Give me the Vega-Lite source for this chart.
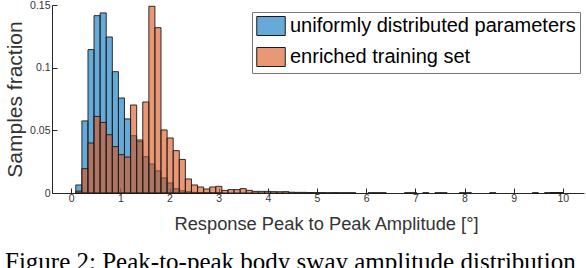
{
  "$schema": "https://vega.github.io/schema/vega-lite/v6.json",
  "autosize": "none",
  "width": 532,
  "height": 188,
  "padding": {"left": 52, "top": 5, "right": 2, "bottom": 75},
  "background": "white",
  "config": {"view": {"stroke": null}},
  "title": {
    "text": "Figure 2: Peak-to-peak body sway amplitude distribution",
    "orient": "bottom",
    "anchor": "start",
    "frame": "group",
    "dx": -47,
    "offset": 17,
    "font": "Liberation Serif",
    "fontSize": 25,
    "fontWeight": "normal",
    "color": "black"
  },
  "data": {
    "values": [
      {"s": "uniformly distributed parameters", "a": 0.094, "b": 0.218, "v": 0.0064},
      {"s": "uniformly distributed parameters", "a": 0.218, "b": 0.342, "v": 0.0575},
      {"s": "uniformly distributed parameters", "a": 0.342, "b": 0.465, "v": 0.1144},
      {"s": "uniformly distributed parameters", "a": 0.465, "b": 0.589, "v": 0.1415},
      {"s": "uniformly distributed parameters", "a": 0.589, "b": 0.713, "v": 0.1437},
      {"s": "uniformly distributed parameters", "a": 0.713, "b": 0.837, "v": 0.1245},
      {"s": "uniformly distributed parameters", "a": 0.837, "b": 0.961, "v": 0.0968},
      {"s": "uniformly distributed parameters", "a": 0.961, "b": 1.084, "v": 0.0758},
      {"s": "uniformly distributed parameters", "a": 1.084, "b": 1.208, "v": 0.0591},
      {"s": "uniformly distributed parameters", "a": 1.208, "b": 1.332, "v": 0.0457},
      {"s": "uniformly distributed parameters", "a": 1.332, "b": 1.456, "v": 0.0410},
      {"s": "uniformly distributed parameters", "a": 1.456, "b": 1.580, "v": 0.0290},
      {"s": "uniformly distributed parameters", "a": 1.580, "b": 1.703, "v": 0.0231},
      {"s": "uniformly distributed parameters", "a": 1.703, "b": 1.827, "v": 0.0176},
      {"s": "uniformly distributed parameters", "a": 1.827, "b": 1.951, "v": 0.0120},
      {"s": "uniformly distributed parameters", "a": 1.951, "b": 2.075, "v": 0.0080},
      {"s": "uniformly distributed parameters", "a": 2.075, "b": 2.199, "v": 0.0034},
      {"s": "uniformly distributed parameters", "a": 2.199, "b": 2.322, "v": 0.0018},
      {"s": "uniformly distributed parameters", "a": 2.322, "b": 2.446, "v": 0.0010},
      {"s": "uniformly distributed parameters", "a": 2.446, "b": 2.570, "v": 0.0005},
      {"s": "uniformly distributed parameters", "a": 2.570, "b": 2.694, "v": 0.0004},
      {"s": "uniformly distributed parameters", "a": 2.694, "b": 2.818, "v": 0.0003},
      {"s": "uniformly distributed parameters", "a": 2.818, "b": 2.941, "v": 0.0002},
      {"s": "uniformly distributed parameters", "a": 2.941, "b": 3.065, "v": 0.0002},
      {"s": "uniformly distributed parameters", "a": 9.750, "b": 9.874, "v": 0.0002},
      {"s": "uniformly distributed parameters", "a": 9.874, "b": 9.998, "v": 0.0002},
      {"s": "enriched training set", "a": 0.094, "b": 0.218, "v": 0.0015},
      {"s": "enriched training set", "a": 0.218, "b": 0.342, "v": 0.0194},
      {"s": "enriched training set", "a": 0.342, "b": 0.465, "v": 0.0399},
      {"s": "enriched training set", "a": 0.465, "b": 0.589, "v": 0.0611},
      {"s": "enriched training set", "a": 0.589, "b": 0.713, "v": 0.0563},
      {"s": "enriched training set", "a": 0.713, "b": 0.837, "v": 0.0465},
      {"s": "enriched training set", "a": 0.837, "b": 0.961, "v": 0.0370},
      {"s": "enriched training set", "a": 0.961, "b": 1.084, "v": 0.0306},
      {"s": "enriched training set", "a": 1.084, "b": 1.208, "v": 0.0287},
      {"s": "enriched training set", "a": 1.208, "b": 1.332, "v": 0.0702},
      {"s": "enriched training set", "a": 1.332, "b": 1.456, "v": 0.0423},
      {"s": "enriched training set", "a": 1.456, "b": 1.580, "v": 0.0726},
      {"s": "enriched training set", "a": 1.580, "b": 1.703, "v": 0.1490},
      {"s": "enriched training set", "a": 1.703, "b": 1.827, "v": 0.1319},
      {"s": "enriched training set", "a": 1.827, "b": 1.951, "v": 0.0503},
      {"s": "enriched training set", "a": 1.951, "b": 2.075, "v": 0.0439},
      {"s": "enriched training set", "a": 2.075, "b": 2.199, "v": 0.0338},
      {"s": "enriched training set", "a": 2.199, "b": 2.322, "v": 0.0268},
      {"s": "enriched training set", "a": 2.322, "b": 2.446, "v": 0.0112},
      {"s": "enriched training set", "a": 2.446, "b": 2.570, "v": 0.0064},
      {"s": "enriched training set", "a": 2.570, "b": 2.694, "v": 0.0048},
      {"s": "enriched training set", "a": 2.694, "b": 2.818, "v": 0.0032},
      {"s": "enriched training set", "a": 2.818, "b": 2.941, "v": 0.0048},
      {"s": "enriched training set", "a": 2.941, "b": 3.065, "v": 0.0053},
      {"s": "enriched training set", "a": 3.065, "b": 3.189, "v": 0.0021},
      {"s": "enriched training set", "a": 3.189, "b": 3.313, "v": 0.0027},
      {"s": "enriched training set", "a": 3.313, "b": 3.437, "v": 0.0027},
      {"s": "enriched training set", "a": 3.437, "b": 3.560, "v": 0.0035},
      {"s": "enriched training set", "a": 3.560, "b": 3.684, "v": 0.0021},
      {"s": "enriched training set", "a": 3.684, "b": 3.808, "v": 0.0013},
      {"s": "enriched training set", "a": 3.808, "b": 3.932, "v": 0.0013},
      {"s": "enriched training set", "a": 3.932, "b": 4.056, "v": 0.0013},
      {"s": "enriched training set", "a": 4.056, "b": 4.180, "v": 0.0011},
      {"s": "enriched training set", "a": 4.180, "b": 4.303, "v": 0.0010},
      {"s": "enriched training set", "a": 4.303, "b": 4.427, "v": 0.0011},
      {"s": "enriched training set", "a": 4.427, "b": 4.551, "v": 0.0006},
      {"s": "enriched training set", "a": 4.551, "b": 4.675, "v": 0.0005},
      {"s": "enriched training set", "a": 4.675, "b": 4.799, "v": 0.0005},
      {"s": "enriched training set", "a": 4.799, "b": 4.922, "v": 0.0004},
      {"s": "enriched training set", "a": 4.922, "b": 5.046, "v": 0.0003},
      {"s": "enriched training set", "a": 5.046, "b": 5.170, "v": 0.0003},
      {"s": "enriched training set", "a": 5.170, "b": 5.294, "v": 0.0002},
      {"s": "enriched training set", "a": 5.294, "b": 5.418, "v": 0.0003},
      {"s": "enriched training set", "a": 5.418, "b": 5.541, "v": 0.0002},
      {"s": "enriched training set", "a": 5.541, "b": 5.665, "v": 0.0002},
      {"s": "enriched training set", "a": 5.665, "b": 5.789, "v": 0.0002},
      {"s": "enriched training set", "a": 6.037, "b": 6.160, "v": 0.0002},
      {"s": "enriched training set", "a": 6.160, "b": 6.284, "v": 0.0002},
      {"s": "enriched training set", "a": 6.284, "b": 6.408, "v": 0.0002},
      {"s": "enriched training set", "a": 6.779, "b": 6.903, "v": 0.0002},
      {"s": "enriched training set", "a": 6.903, "b": 7.027, "v": 0.0002},
      {"s": "enriched training set", "a": 7.151, "b": 7.274, "v": 0.0002},
      {"s": "enriched training set", "a": 7.398, "b": 7.522, "v": 0.0002},
      {"s": "enriched training set", "a": 7.522, "b": 7.646, "v": 0.0002},
      {"s": "enriched training set", "a": 7.894, "b": 8.017, "v": 0.0002},
      {"s": "enriched training set", "a": 8.017, "b": 8.141, "v": 0.0002},
      {"s": "enriched training set", "a": 8.512, "b": 8.636, "v": 0.0002},
      {"s": "enriched training set", "a": 9.379, "b": 9.503, "v": 0.0002},
      {"s": "enriched training set", "a": 9.627, "b": 9.750, "v": 0.0002},
      {"s": "enriched training set", "a": 9.750, "b": 9.874, "v": 0.0003},
      {"s": "enriched training set", "a": 9.874, "b": 9.998, "v": 0.0003}
    ]
  },
  "mark": {"type": "bar", "stroke": "#1a1a1a", "strokeWidth": 1, "strokeOpacity": 0.9},
  "encoding": {
    "x": {
      "field": "a",
      "type": "quantitative",
      "scale": {"domain": [-0.39, 10.43], "nice": false, "zero": false},
      "axis": {
        "values": [0, 1, 2, 3, 4, 5, 6, 7, 8, 9, 10],
        "title": "Response Peak to Peak Amplitude [°]",
        "grid": false,
        "tickSize": -5,
        "labelPadding": 5,
        "labelFont": "Liberation Sans",
        "labelFontSize": 10.5,
        "labelColor": "#333333",
        "tickColor": "#262626",
        "domainColor": "#262626",
        "titleFont": "Liberation Sans",
        "titleFontSize": 18.3,
        "titleFontWeight": "normal",
        "titleColor": "#333333",
        "titleX": 274,
        "titlePadding": 12
      }
    },
    "x2": {"field": "b"},
    "y": {
      "field": "v",
      "type": "quantitative",
      "stack": null,
      "scale": {"domain": [0, 0.15], "nice": false},
      "axis": {
        "values": [0, 0.05, 0.1, 0.15],
        "format": ".2~f",
        "title": "Samples fraction",
        "grid": false,
        "tickSize": -5,
        "labelPadding": 7,
        "labelFont": "Liberation Sans",
        "labelFontSize": 10.5,
        "labelColor": "#333333",
        "labelFlush": false,
        "labelOverlap": false,
        "tickColor": "#262626",
        "domainColor": "#262626",
        "titleFont": "Liberation Sans",
        "titleFontSize": 21,
        "titleFontWeight": "normal",
        "titleColor": "#333333",
        "titlePadding": 4
      }
    },
    "y2": {"datum": 0},
    "fill": {
      "field": "s",
      "type": "nominal",
      "sort": null,
      "scale": {
        "domain": ["uniformly distributed parameters", "enriched training set"],
        "range": ["rgba(0,114,189,0.6)", "rgba(217,83,25,0.6)"]
      },
      "legend": {
        "title": null,
        "orient": "none",
        "legendX": 200,
        "legendY": 7,
        "strokeColor": "#777777",
        "fillColor": "white",
        "padding": 4,
        "labelFont": "Liberation Sans",
        "labelFontSize": 20,
        "labelColor": "black",
        "labelLimit": 0,
        "labelOffset": 9,
        "symbolType": "M-1.5,-1H1.5V1H-1.5Z",
        "symbolSize": 361,
        "symbolOffset": 5,
        "symbolStrokeColor": "#1a1a1a",
        "symbolStrokeWidth": 1,
        "rowPadding": 7
      }
    }
  }
}
